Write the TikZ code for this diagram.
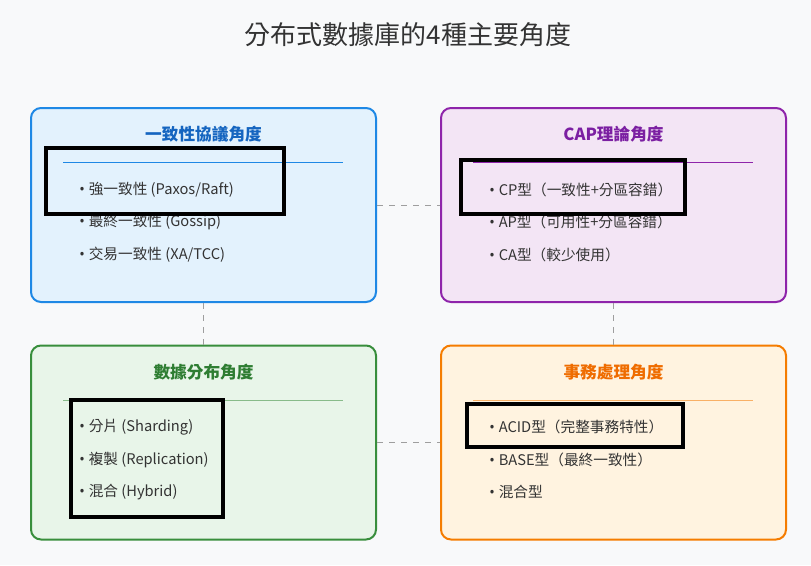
\documentclass[tikz,border=0pt]{standalone}
\usepackage{fontspec}
\setmainfont{Noto Sans CJK TC}
\newfontfamily\latinfont{Noto Sans}
\usepackage{tikz}

\definecolor{pagebg}{HTML}{F8F9FA}
\definecolor{txt}{HTML}{333333}
\definecolor{linkgray}{HTML}{9E9E9E}
\definecolor{bluebd}{HTML}{1E88E5}
\definecolor{bluebg}{HTML}{E3F2FD}
\definecolor{bluetx}{HTML}{1565C0}
\definecolor{purpbd}{HTML}{8E24AA}
\definecolor{purpbg}{HTML}{F3E5F5}
\definecolor{purptx}{HTML}{7B1FA2}
\definecolor{grnbd}{HTML}{388E3C}
\definecolor{grnbg}{HTML}{E8F5E9}
\definecolor{grntx}{HTML}{2E7D32}
\definecolor{orgbd}{HTML}{F57C00}
\definecolor{orgbg}{HTML}{FFF3E0}
\definecolor{orgtx}{HTML}{EF6C00}

\newcommand{\bul}{{\latinfont •}\hspace{3pt}}

\begin{document}
\begin{tikzpicture}[x=0.75pt, y=-0.75pt,
	box/.style={line width=1.5pt, rounded corners=7.5pt, minimum width=258.75pt, minimum height=145.5pt},
	head/.style={font=\fontsize{12.5}{14}\selectfont\bfseries},
	item/.style={anchor=west, inner sep=0pt, text=txt, font=\fontsize{11}{13}\selectfont},
	link/.style={draw=linkgray, dashed, dash pattern=on 4.5pt off 4.5pt, line width=0.75pt},
	hlbox/.style={draw=black, line width=3.5pt}]
	\fill[pagebg] (0,0) rectangle (811,565);
	\useasboundingbox (0,0) rectangle (811,565);
	\node[text=txt, font=\fontsize{19.5}{22}\selectfont] (title) at (408,35) {分布式數據庫的4種主要角度};
	% boxes
	\node[box, draw=bluebd, fill=bluebg] (cons) at (203.5,205) {};
	\node[box, draw=purpbd, fill=purpbg] (cap) at (613.5,205) {};
	\node[box, draw=grnbd, fill=grnbg] (dist) at (203.5,442.5) {};
	\node[box, draw=orgbd, fill=orgbg] (trans) at (613.5,442.5) {};
	% links
	\draw[link] (cons) -- (cap);
	\draw[link] (cons) -- (dist);
	\draw[link] (cap) -- (trans);
	\draw[link] (dist) -- (trans);
	% consistency
	\node[head, text=bluetx] (consh) at (203.5,134) {一致性協議角度};
	\draw[bluebd, line width=0.75pt] (63,162) -- (343,162);
	\node[item] (cons1) at (79,190) {\bul 強一致性 (Paxos/Raft)};
	\node[item] (cons2) at (79,222) {\bul 最終一致性 (Gossip)};
	\node[item] (cons3) at (79,255) {\bul 交易一致性 (XA/TCC)};
	% cap
	\node[head, text=purptx] (caph) at (613.5,134) {CAP理論角度};
	\draw[purpbd, line width=0.75pt] (473,162) -- (753,162);
	\node[item] (cap1) at (489,190) {\bul CP型（一致性+分區容錯）};
	\node[item] (cap2) at (489,222) {\bul AP型（可用性+分區容錯）};
	\node[item] (cap3) at (489,255) {\bul CA型（較少使用）};
	% distribution
	\node[head, text=grntx] (disth) at (203.5,372) {數據分布角度};
	\draw[grnbd!60, line width=0.75pt] (63,400) -- (343,400);
	\node[item] (dist1) at (79,427) {\bul 分片 (Sharding)};
	\node[item] (dist2) at (79,460) {\bul 複製 (Replication)};
	\node[item] (dist3) at (79,492) {\bul 混合 (Hybrid)};
	% transaction
	\node[head, text=orgtx] (transh) at (613.5,372) {事務處理角度};
	\draw[orgbd!60, line width=0.75pt] (473,400) -- (753,400);
	\node[item] (trans1) at (489,427) {\bul ACID型（完整事務特性）};
	\node[item] (trans2) at (489,460) {\bul BASE型（最終一致性）};
	\node[item] (trans3) at (489,492) {\bul 混合型};
	% highlights
	\draw[hlbox] (46,148) rectangle (284,214);
	\draw[hlbox] (461,160) rectangle (685,214);
	\draw[hlbox] (71,400) rectangle (223,517);
	\draw[hlbox] (467,404) rectangle (683,447);
\end{tikzpicture}
\end{document}
